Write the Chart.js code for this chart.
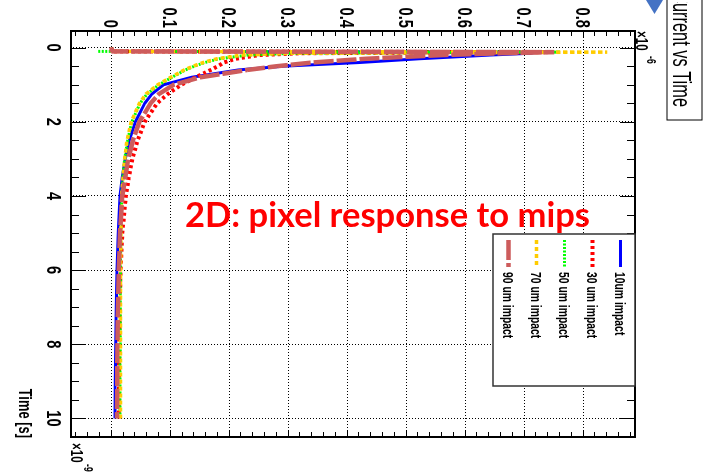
<!DOCTYPE html>
<html>
<head>
<meta charset="utf-8">
<script src="https://cdn.jsdelivr.net/npm/chart.js@4.4.1/dist/chart.umd.min.js"></script>
<style>
 html,body{margin:0;padding:0;background:#fff;width:705px;height:476px;overflow:hidden;}
 /* the ROOT canvas is drawn upright, then turned a quarter turn */
 #wrap{position:absolute;left:0;top:0;width:476px;height:705px;transform-origin:0 0;transform:translateX(705px) rotate(90deg);}
 #over{position:absolute;left:0;top:0;}
</style>
</head>
<body>
<div id="wrap"><canvas id="chart"></canvas></div>
<svg id="over" width="705" height="476">
 <polygon points="646,0 663,0 654.5,14" fill="#4472c4"/>
 <text x="185" y="227" font-family="Lato" font-weight="700" font-size="34" fill="#ff0000" textLength="405" lengthAdjust="spacingAndGlyphs">2D: pixel response to mips</text>
</svg>
<script>
// time in ns, current in uA
const times=[0,0.1,0.12,0.15,0.2,0.3,0.4,0.5,0.6,0.8,1.0,1.25,1.5,2,2.5,3,3.5,4,5,6,7,8,9,10];
const i10=[0,0,0.72,0.71,0.64,0.52,0.42,0.29,0.215,0.135,0.088,0.068,0.056,0.040,0.030,0.023,0.018,0.014,0.011,0.0088,0.0075,0.0068,0.006,0.0056];
const i30=[0,0,0.74,0.32,0.25,0.21,0.19,0.18,0.168,0.142,0.118,0.095,0.077,0.056,0.044,0.035,0.029,0.024,0.018,0.015,0.0135,0.0128,0.0122,0.012];
const i50=[null,-0.023,0.76,0.31,0.23,0.182,0.158,0.14,0.125,0.102,0.08,0.06,0.048,0.034,0.027,0.022,0.019,0.017,0.0155,0.0148,0.0145,0.0143,0.0142,0.014];
const i70=[0,0,0.84,0.30,0.22,0.178,0.155,0.138,0.123,0.10,0.078,0.058,0.047,0.033,0.026,0.022,0.019,0.017,0.0155,0.015,0.015,0.015,0.015,0.015];
const i90=[0,0,0.75,0.66,0.56,0.43,0.34,0.28,0.23,0.15,0.105,0.080,0.066,0.047,0.036,0.028,0.023,0.018,0.014,0.012,0.0105,0.0098,0.0093,0.009];

const names=["10um impact","30 um impact","50 um impact","70 um impact","90 um impact"];
const colors=["#0000ff","#ff0000","#00ff00","#ffcc00","#cd5c5c"];
const dashes=[[],[3,3],[2,1.5],[4,3],[20,3]];
const widths=[3,4,3,3.5,4.5];

const timeTicks=[0,2,4,6,8,10];
const currentTicks=[0,0.1,0.2,0.3,0.4,0.5,0.6,0.7,0.8];

const series=[i10,i30,i50,i70,i90];

const FONT='"Liberation Sans",Arial,sans-serif';
const SX=0.72; // ROOT text comes out narrow

function text(ctx,str,x,y,font,align,sx){
 ctx.save();
 ctx.font=font;
 ctx.textAlign=align;
 ctx.translate(x,y);
 ctx.scale(sx||SX,1);
 ctx.fillText(str,0,0);
 ctx.restore();
}

// frame, inward ticks, labels, legend and titles in ROOT style
const rootStyle={
 id:'rootStyle',
 afterDraw(chart){
  const {ctx,chartArea:a,scales:{x,y}}=chart;
  ctx.save();
  ctx.strokeStyle='#000';
  ctx.lineWidth=1;
  ctx.beginPath();
  // time axis: every 0.5, major every 2
  for(let k=0;k<=21;k++){
   const px=Math.round(x.getPixelForValue(k*0.5))+0.5;
   const len=(k%4===0)?15:8;
   ctx.moveTo(px,a.bottom);ctx.lineTo(px,a.bottom-len);
   ctx.moveTo(px,a.top);ctx.lineTo(px,a.top+len);
  }
  // current axis: every 0.02
  for(let k=-3;k<=44;k++){
   const v=k*0.02;
   if(v<y.min||v>y.max) continue;
   const py=Math.round(y.getPixelForValue(v))+0.5;
   const len=(k%5===0)?7:5;
   ctx.moveTo(a.left,py);ctx.lineTo(a.left+len,py);
   ctx.moveTo(a.right,py);ctx.lineTo(a.right-len,py);
  }
  ctx.stroke();
  ctx.lineWidth=2;
  ctx.strokeRect(a.left,a.top,a.right-a.left,a.bottom-a.top);

  // tick labels
  ctx.fillStyle='#000';
  ctx.textBaseline='alphabetic';
  x.ticks.forEach(t=>text(ctx,String(t.value),x.getPixelForValue(t.value),658,'bold 21px '+FONT,'center',0.7));
  y.ticks.forEach(t=>text(ctx,String(Math.round(t.value*10)/10),28,y.getPixelForValue(t.value)+7.5,'bold 21px '+FONT,'right',0.7));

  // legend
  const lx=234,ly=a.top,lw=152,lh=142;
  ctx.fillStyle='#fff';
  ctx.fillRect(lx,ly,lw,lh);
  ctx.lineWidth=1.5;
  ctx.strokeStyle='#333';
  ctx.strokeRect(lx,ly,lw,lh);
  chart.data.datasets.forEach((ds,i)=>{
   const cy=ly+14.5+i*28;
   ctx.strokeStyle=ds.borderColor;
   ctx.lineWidth=ds.borderWidth;
   ctx.setLineDash(ds.borderDash);
   ctx.beginPath();ctx.moveTo(lx+6,cy);ctx.lineTo(lx+33,cy);ctx.stroke();
   ctx.setLineDash([]);
   ctx.fillStyle='#000';
   text(ctx,ds.label,lx+38,cy+5,'bold 14px '+FONT,'left',0.74);
  });

  // exponents and axis title
  ctx.fillStyle='#000';
  text(ctx,'\u00d710',31,69,'bold 16px '+FONT,'left');
  text(ctx,'-6',56,58,'bold 12px '+FONT,'left');
  text(ctx,'\u00d710',443,634,'bold 16px '+FONT,'left');
  text(ctx,'-9',464,621,'bold 12px '+FONT,'left');
  text(ctx,'Time [s]',438,686,'bold 19px '+FONT,'right',0.68);

  // title box, text runs off the left edge
  ctx.fillStyle='#fff';
  ctx.fillRect(-5,2,125,37);
  ctx.strokeStyle='#000';
  ctx.lineWidth=1;
  ctx.strokeRect(-5,3,125,35);
  ctx.save();
  ctx.beginPath();
  ctx.rect(2,4,116,33);
  ctx.clip();
  ctx.fillStyle='#000';
  ctx.font='25px '+FONT;
  const tail=ctx.measureText('urrent vs Time').width;
  text(ctx,'Current vs Time',107,32,'25px '+FONT,'right',104/tail);
  ctx.restore();
  ctx.restore();
 }
};

new Chart(document.getElementById('chart'),{
 type:'line',
 data:{
  datasets:series.map((vals,i)=>({
   label:names[i],
   data:times.map((t,k)=>({x:t,y:vals[k]})),
   borderColor:colors[i],
   borderWidth:widths[i],
   borderDash:dashes[i],
   borderCapStyle:'butt',
   borderJoinStyle:'bevel',
   pointRadius:0,
   tension:0,
   fill:false,
   clip:0,
   order:5-i
  }))
 },
 options:{
  responsive:true,
  maintainAspectRatio:false,
  animation:false,
  events:[],
  layout:{padding:{left:0,right:39,top:70,bottom:0}},
  plugins:{legend:{display:false},tooltip:{enabled:false},title:{display:false}},
  scales:{
   x:{
    type:'linear',min:-0.45,max:10.5,
    afterBuildTicks:s=>{s.ticks=timeTicks.map(v=>({value:v}));},
    afterFit:s=>{s.height=71;},
    grid:{color:'#000',lineWidth:1,drawTicks:false},
    border:{display:false,dash:[1,2]},
    ticks:{display:false}
   },
   y:{
    type:'linear',min:-0.069,max:0.887,
    afterBuildTicks:s=>{s.ticks=currentTicks.map(v=>({value:v}));},
    afterFit:s=>{s.width=31;},
    grid:{color:'#000',lineWidth:1,drawTicks:false},
    border:{display:false,dash:[1,2]},
    ticks:{display:false}
   }
  }
 },
 plugins:[rootStyle]
});
</script>
</body>
</html>
